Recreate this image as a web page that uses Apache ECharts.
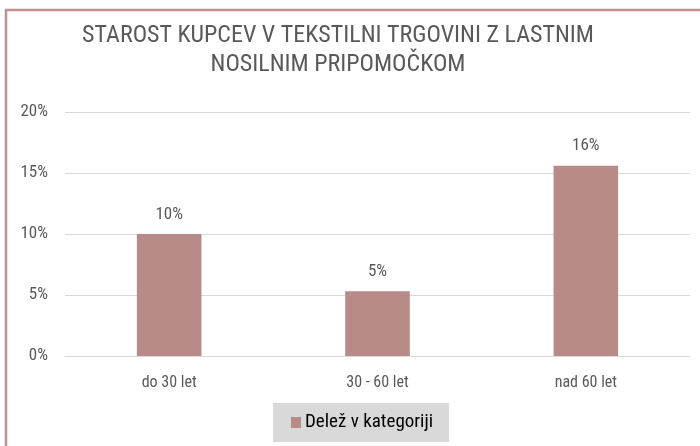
<!DOCTYPE html>
<html>
<head>
<meta charset="utf-8">
<script src="https://cdn.jsdelivr.net/npm/echarts@6/dist/echarts.min.js"></script>
<style>html,body{margin:0;padding:0;background:#fff}#c{width:700px;height:446px}</style>
</head>
<body>
<div id="c"></div>
<script>
const titleLines = ['STAROST KUPCEV V TEKSTILNI TRGOVINI Z LASTNIM', 'NOSILNIM PRIPOMOČKOM'];
const categories = ['do 30 let', '30 - 60 let', 'nad 60 let'];
const seriesName = 'Delež v kategoriji';
const values = [0.100, 0.053, 0.156];
const yTicks = [0, 0.05, 0.10, 0.15, 0.20];

const condFont = '"Roboto Condensed","Liberation Sans Narrow","DejaVu Sans Condensed","Arial Narrow",Roboto,sans-serif';
const chart = echarts.init(document.getElementById('c'));
chart.setOption({
  animation: false,
  backgroundColor: '#ffffff',
  graphic: [
    { type: 'rect', shape: { x: 6, y: 10, width: 760, height: 520 }, style: { fill: 'none', stroke: '#c09090', lineWidth: 2.5 }, silent: true, z: 10 },
    { type: 'text', x: 338, y: 36, style: { text: titleLines[0], fill: '#595959', font: '24px ' + condFont, textAlign: 'center', textVerticalAlign: 'middle' } },
    { type: 'text', x: 338, y: 65, style: { text: titleLines[1], fill: '#595959', font: '24px ' + condFont, textAlign: 'center', textVerticalAlign: 'middle' } }
  ],
  grid: { left: 65, right: 10, top: 112, bottom: 90, containLabel: false },
  legend: {
    data: [seriesName],
    top: 403,
    left: 273,
    backgroundColor: '#d9d9d9',
    padding: [10, 16, 10, 18],
    icon: 'rect',
    itemWidth: 10,
    itemHeight: 11,
    itemGap: 5,
    textStyle: { color: '#000', fontSize: 19, fontFamily: condFont, padding: [0, 0, 0, -1] }
  },
  xAxis: {
    type: 'category',
    data: categories,
    axisLine: { show: true, lineStyle: { color: '#d9d9d9', width: 1 } },
    axisTick: { show: false },
    axisLabel: { color: '#595959', fontSize: 16, fontFamily: condFont, margin: 19 }
  },
  yAxis: {
    type: 'value',
    min: yTicks[0],
    max: yTicks[yTicks.length - 1],
    interval: 0.05,
    axisLine: { show: false },
    axisTick: { show: false },
    splitLine: { lineStyle: { color: '#d9d9d9', width: 1 } },
    axisLabel: {
      color: '#595959', fontSize: 17, fontFamily: condFont, margin: 17,
      formatter: v => Math.round(v * 100) + '%'
    }
  },
  series: [{
    name: seriesName,
    type: 'bar',
    data: values,
    barWidth: '31%',
    itemStyle: { color: '#b88a88' },
    label: {
      show: true, position: 'top', distance: 11,
      color: '#595959', fontSize: 17, fontFamily: condFont,
      formatter: p => Math.round(p.value * 100) + '%'
    }
  }]
});
</script>
</body>
</html>
